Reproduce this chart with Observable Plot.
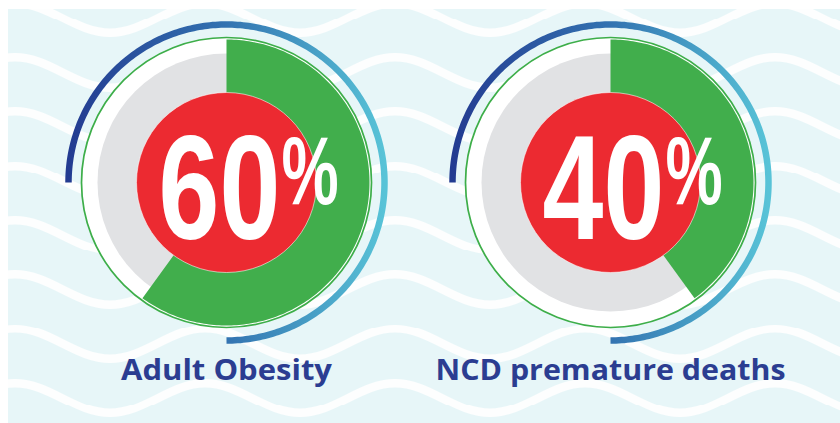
<!DOCTYPE html>
<html>
<head>
<meta charset="utf-8">
<script src="https://cdn.jsdelivr.net/npm/d3@7"></script>
<script src="https://cdn.jsdelivr.net/npm/@observablehq/plot@0.6"></script>
<style>
  html, body { margin: 0; padding: 0; background: #ffffff; }
  #wrap { position: relative; width: 840px; height: 423px; overflow: hidden; }
  #bg { position: absolute; left: 8px; top: 9px; right: 0; bottom: 0; background-color: #E7F6F8; }
  #chart { position: absolute; left: 0; top: 0; }
</style>
</head>
<body>
<div id="wrap"><div id="bg"></div><div id="chart"></div></div>
<script>
// ---- data ----
const categories = ["Adult Obesity", "NCD premature deaths"];
const values = [60, 40];               // percent
const valueLabels = ["60", "40"];
const unitLabel = "%";

// ---- layout / style ----
const W = 840, H = 423;
const R = { arc: 158, ring: 145, wedge: 143, gray: 129, red: 90 };
const colors = {
  green: "#41AE4C", gray: "#E1E2E4", red: "#EC2A31", navy: "#2B3D91",
  ring: "#3DAE49", bg: "#E7F6F8"
};
const condense = { digits: 0.74, unit: 0.67 };
const labelWidths = { "Adult Obesity": 211, "NCD premature deaths": 350 };

// ---- decorative wave background (CSS) ----
(function () {
  const P = 190, TH = 54.3, A = 15, c = TH / 2, h = P / 2, k = 0.3642;
  const d = `M0,${c - A} C${k * h},${c - A} ${(1 - k) * h},${c + A} ${h},${c + A} C${h + k * h},${c + A} ${P - k * h},${c - A} ${P},${c - A}`;
  const s = `<svg xmlns="http://www.w3.org/2000/svg" width="${P}" height="${TH}"><path d="${d}" fill="none" stroke="#FDFEFE" stroke-width="8.5"/></svg>`;
  const bg = document.getElementById("bg");
  bg.style.backgroundImage = `url("data:image/svg+xml,${encodeURIComponent(s)}")`;
  bg.style.backgroundSize = `${P}px ${TH}px`;
  bg.style.backgroundPosition = `7px ${-(c + A) + 24}px`;
})();

// ---- derived geometry from the values ----
const rows = categories.map((c, i) => ({ category: c, value: values[i], label: valueLabels[i], unit: unitLabel }));
const deg = Math.PI / 180;
const wedge = rows.flatMap(d => {
  const a = d.value / 100 * 360;
  const n = Math.ceil(a);
  const pts = [{ category: d.category, x: 0, y: 0 }];
  for (let j = 0; j <= n; j++) {
    const t = (a * j / n) * deg;
    pts.push({ category: d.category, x: R.wedge * Math.sin(t), y: R.wedge * Math.cos(t) });
  }
  pts.push({ category: d.category, x: 0, y: 0 });
  return pts;
});
const arc = rows.flatMap(d => {
  const pts = [];
  for (let t = -90; t <= 180; t += 1) {
    pts.push({ category: d.category, x: R.arc * Math.sin(t * deg), y: R.arc * Math.cos(t * deg) });
  }
  return pts;
});

const zero = () => 0;
const bigFont = "Liberation Sans, Arial, sans-serif";
const plot = Plot.plot({
  width: W, height: H,
  marginLeft: 34, marginRight: 38, marginTop: 0, marginBottom: 70,
  style: { background: "transparent", overflow: "visible" },
  fx: { domain: categories, padding: 0, label: null },
  x: { domain: [-192, 192], axis: null },
  y: { domain: [-171, 182], axis: null },
  marks: [
    Plot.line(arc, { fx: "category", x: "x", y: "y", z: "category", stroke: "url(#arcGrad)", strokeWidth: 6.5, strokeLinecap: "butt", curve: "linear" }),
    Plot.dot(rows, { fx: "category", x: zero, y: zero, r: R.ring, fill: "white", stroke: colors.ring, strokeWidth: 1.7 }),
    Plot.dot(rows, { fx: "category", x: zero, y: zero, r: R.gray, fill: colors.gray, stroke: "none" }),
    Plot.line(wedge, { fx: "category", x: "x", y: "y", z: "category", fill: colors.green, stroke: "none", curve: "linear" }),
    Plot.dot(rows, { fx: "category", x: zero, y: zero, r: R.red, fill: colors.red, stroke: "white", strokeWidth: 0.8, strokeOpacity: 0.7 }),
    Plot.text(rows, { fx: "category", x: zero, y: zero, text: "label", fill: "white", fontSize: 148, fontWeight: 700, fontFamily: bigFont, textAnchor: "start", lineAnchor: "bottom", dx: -68, dy: 56 }),
    Plot.text(rows, { fx: "category", x: zero, y: zero, text: "unit", fill: "white", fontSize: 96, fontWeight: 700, fontFamily: bigFont, textAnchor: "start", lineAnchor: "bottom", dx: 55, dy: 21 }),
    Plot.axisFx({ anchor: "bottom", tickSize: 0, tickPadding: 6.4, label: null, fontSize: 29, fontWeight: 700, fontFamily: "Open Sans, Lato, sans-serif", color: colors.navy, fill: colors.navy })
  ]
});

// gradient definition for the outer arc
const svgNS = "http://www.w3.org/2000/svg";
const defs = document.createElementNS(svgNS, "defs");
defs.innerHTML = `<linearGradient id="arcGrad" x1="0" y1="0" x2="1" y2="0">
  <stop offset="0" stop-color="#233B91"/>
  <stop offset="0.5" stop-color="#3373B1"/>
  <stop offset="1" stop-color="#58C3D7"/>
</linearGradient>`;
plot.insertBefore(defs, plot.firstChild);

// condensed lettering (horizontal squeeze around each text's anchor)
function squeeze(t, sx) {
  const tr = t.getAttribute("transform");
  if (tr) t.setAttribute("transform", `${tr} scale(${sx},1)`);
  else {
    const x = +t.getAttribute("x") || 0;
    t.setAttribute("transform", `translate(${x},0) scale(${sx},1) translate(${-x},0)`);
  }
}
plot.querySelectorAll("text").forEach(t => {
  const s = t.textContent;
  if (valueLabels.includes(s)) squeeze(t, condense.digits);
  else if (s === unitLabel) squeeze(t, condense.unit);
  else if (labelWidths[s]) {
    t.setAttribute("textLength", labelWidths[s]);
    t.setAttribute("lengthAdjust", "spacingAndGlyphs");
  }
});

document.getElementById("chart").appendChild(plot);
</script>
</body>
</html>
